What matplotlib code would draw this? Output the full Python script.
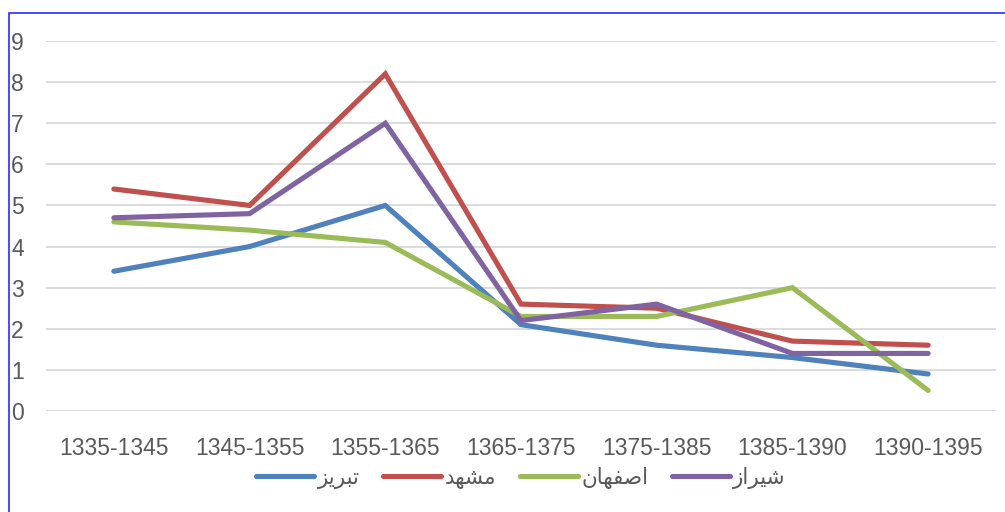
import matplotlib.pyplot as plt
from matplotlib.patches import Rectangle

periods = ["1335-1345", "1345-1355", "1355-1365", "1365-1375",
           "1375-1385", "1385-1390", "1390-1395"]

# city names in Persian (presentation forms, visual order, since matplotlib does not shape Arabic script)
tabriz_label = "\uFEB0\uFEF3\uFEAE\uFE92\uFE97"      # تبریز
mashhad_label = "\uFEAA\uFEEC\uFEB8\uFEE3"           # مشهد
isfahan_label = "\uFEE5\uFE8E\uFEEC\uFED4\uFEBB\uFE8D"  # اصفهان
shiraz_label = "\uFEAF\uFE8D\uFEAE\uFEF4\uFEB7"      # شیراز

tabriz = [3.4, 4.0, 5.0, 2.1, 1.6, 1.3, 0.9]
mashhad = [5.4, 5.0, 8.2, 2.6, 2.5, 1.7, 1.6]
isfahan = [4.6, 4.4, 4.1, 2.3, 2.3, 3.0, 0.5]
shiraz = [4.7, 4.8, 7.0, 2.2, 2.6, 1.4, 1.4]

series = [
    (tabriz_label, tabriz, "#4F81BD"),
    (mashhad_label, mashhad, "#C0504D"),
    (isfahan_label, isfahan, "#9BBB59"),
    (shiraz_label, shiraz, "#8064A2"),
]

text_color = "#595959"

fig = plt.figure(figsize=(10.05, 5.12), dpi=100)
ax = fig.add_axes([46 / 1005, 101 / 512, 950 / 1005, 370 / 512])

x = range(len(periods))
for label, values, color in series:
    ax.plot(x, values, color=color, linewidth=3.7, label=label,
            solid_capstyle="round", solid_joinstyle="miter")

ax.set_xlim(-0.5, len(periods) - 0.5)
ax.set_ylim(0, 9)
ax.set_yticks(range(10))
ax.set_xticks(list(x))
ax.set_xticklabels(periods)
ax.grid(axis="y", color="#D9D9D9", linewidth=1.3)
ax.set_axisbelow(True)
for s in ax.spines.values():
    s.set_visible(False)
ax.tick_params(axis="both", length=0, labelcolor=text_color, labelsize=16.5)
ax.tick_params(axis="y", pad=25)
ax.tick_params(axis="x", pad=19)
for lab in ax.get_xticklabels() + ax.get_yticklabels():
    lab.set_family("Liberation Sans")
for lab in ax.get_yticklabels():
    lab.set_horizontalalignment("left")

leg = ax.legend(loc="center", bbox_to_anchor=(0.5, -0.181), ncol=4,
                frameon=False, handlelength=2.7, handletextpad=0.15,
                columnspacing=1.1, prop={"family": "DejaVu Sans", "size": 15.5})
for t in leg.get_texts():
    t.set_color(text_color)

# blue frame around the picture
fig.patches.append(Rectangle((9 / 1005, -0.1), 1.2, (499 / 512) + 0.1,
                             transform=fig.transFigure, fill=False,
                             edgecolor="#2B2BFF", linewidth=1.2))

fig.savefig("out.png", dpi=100)
